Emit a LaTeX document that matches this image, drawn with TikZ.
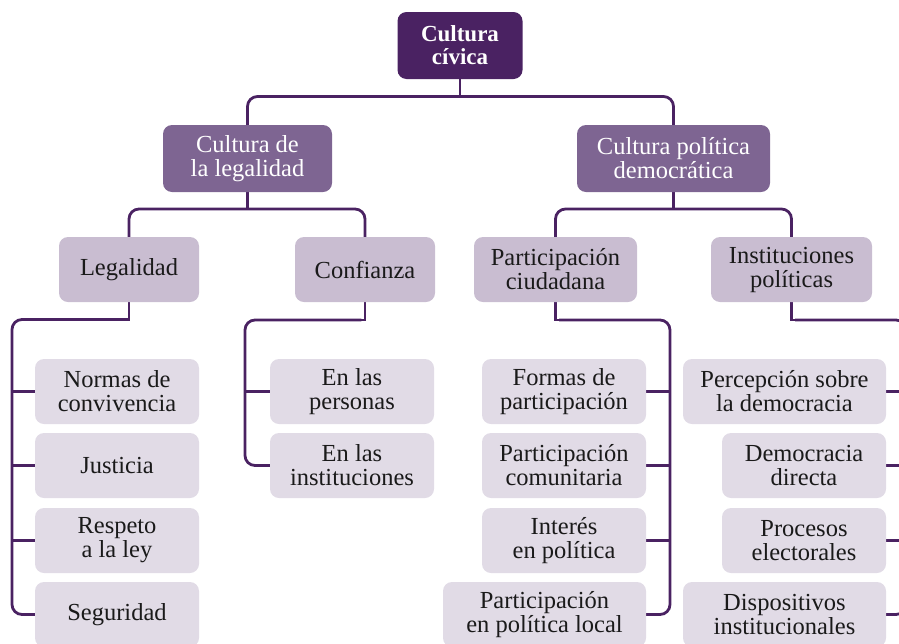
\documentclass[tikz,border=0pt]{standalone}
\usepackage{fontspec}
\setmainfont{Liberation Serif}
\usetikzlibrary{backgrounds,calc}
\definecolor{cdark}{HTML}{4A2262}
\definecolor{cmid}{HTML}{7E6592}
\definecolor{clight}{HTML}{C9BDD1}
\definecolor{cpale}{HTML}{E1DBE6}
\definecolor{ctext}{HTML}{1A1A1A}
\begin{document}
\begin{tikzpicture}[x=1pt,y=-1pt,
  box/.style={rectangle,rounded corners=9pt,inner sep=0pt,align=center,
    font=\fontsize{24.5}{24}\selectfont},
  topbox/.style={box,fill=cdark,text=white,minimum width=125pt,minimum height=67pt,
    font=\fontsize{23}{23}\selectfont\bfseries},
  midbox/.style={box,fill=cmid,text=white,minimum height=67pt},
  lvbox/.style={box,fill=clight,text=ctext,minimum height=65pt},
  leafbox/.style={box,fill=cpale,text=ctext,minimum height=65pt,minimum width=164pt},
  conn/.style={draw=cdark,line width=2.8pt,line cap=rect},
  rconn/.style={conn,rounded corners=10pt}]
\useasboundingbox (0,0) rectangle (899,643);
\clip (0,0) rectangle (899,643);
% nodes
\node[topbox] (cc) at (460,45.5) {Cultura\\cívica};
\node[midbox,minimum width=169pt] (cl) at (247.5,158.5) {Cultura de\\la legalidad};
\node[midbox,minimum width=193pt] (cp) at (673.5,158.5) {Cultura política\\democrática};
\node[lvbox,minimum width=140pt] (leg) at (129,269.5) {Legalidad};
\node[lvbox,minimum width=140pt] (conf) at (365,269.5) {Confianza};
\node[lvbox,minimum width=163pt] (pc) at (555.5,269.5) {Participación\\ciudadana};
\node[lvbox,minimum width=161pt] (ip) at (791.5,269.5) {Instituciones\\políticas};
% legalidad leaves
\node[leafbox] (l1) at (117,391.5) {Normas de\\convivencia};
\node[leafbox] (l2) at (117,465.5) {Justicia};
\node[leafbox] (l3) at (117,540.5) {Respeto\\a la ley};
\node[leafbox] (l4) at (117,614.5) {Seguridad};
% confianza leaves
\node[leafbox] (c1) at (352,391.5) {En las\\personas};
\node[leafbox] (c2) at (352,465.5) {En las\\instituciones};
% participacion leaves
\node[leafbox] (p1) at (564,391.5) {Formas de\\participación};
\node[leafbox] (p2) at (564,465.5) {Participación\\comunitaria};
\node[leafbox] (p3) at (564,540.5) {Interés\\en política};
\node[leafbox,minimum width=203pt] (p4) at (544.5,614.5) {Participación\\en política local};
% instituciones leaves
\node[leafbox,minimum width=203pt] (i1) at (784.5,391.5) {Percepción sobre\\la democracia};
\node[leafbox] (i2) at (804,465.5) {Democracia\\directa};
\node[leafbox] (i3) at (804,540.5) {Procesos\\electorales};
\node[leafbox,minimum width=203pt] (i4) at (784.5,614.5) {Dispositivos\\institucionales};
% junction coordinates
\coordinate (j1) at (460,96.5);
\coordinate (j2) at (247.5,209);
\coordinate (j3) at (673.5,209);
\coordinate (lt) at (12,319.5);
\coordinate (ct) at (245,320);
\coordinate (pt) at (670,320);
\coordinate (it) at (906,320);
\begin{pgfonlayer}{background}
  \draw[conn] (cc) -- (j1);
  \draw[rconn] (cl) |- (j1) -| (cp);
  \draw[conn] (cl) -- (j2);
  \draw[rconn] (leg) |- (j2) -| (conf);
  \draw[conn] (cp) -- (j3);
  \draw[rconn] (pc) |- (j3) -| (ip);
  % legalidad branch
  \draw[conn] (leg) |- ($(lt)+(20,0)$);
  \draw[rconn] ($(leg |- lt)+(-5,0)$) -- (lt) |- (l4);
  \draw[conn] (lt |- l1) -- (l1);
  \draw[conn] (lt |- l2) -- (l2);
  \draw[conn] (lt |- l3) -- (l3);
  % confianza branch
  \draw[conn] (conf) |- ($(ct)+(20,0)$);
  \draw[rconn] ($(conf |- ct)+(-5,0)$) -- (ct) |- (c2);
  \draw[conn] (ct |- c1) -- (c1);
  % participacion branch
  \draw[conn] (pc) |- ($(pt)+(-20,0)$);
  \draw[rconn] ($(pc |- pt)+(5,0)$) -- (pt) |- (p4);
  \draw[conn] (pt |- p1) -- (p1);
  \draw[conn] (pt |- p2) -- (p2);
  \draw[conn] (pt |- p3) -- (p3);
  % instituciones branch
  \draw[conn] (ip) |- ($(it)+(-20,0)$);
  \draw[rconn] ($(ip |- it)+(5,0)$) -- (it) |- (i4);
  \draw[conn] (it |- i1) -- (i1);
  \draw[conn] (it |- i2) -- (i2);
  \draw[conn] (it |- i3) -- (i3);
\end{pgfonlayer}
\end{tikzpicture}
\end{document}
